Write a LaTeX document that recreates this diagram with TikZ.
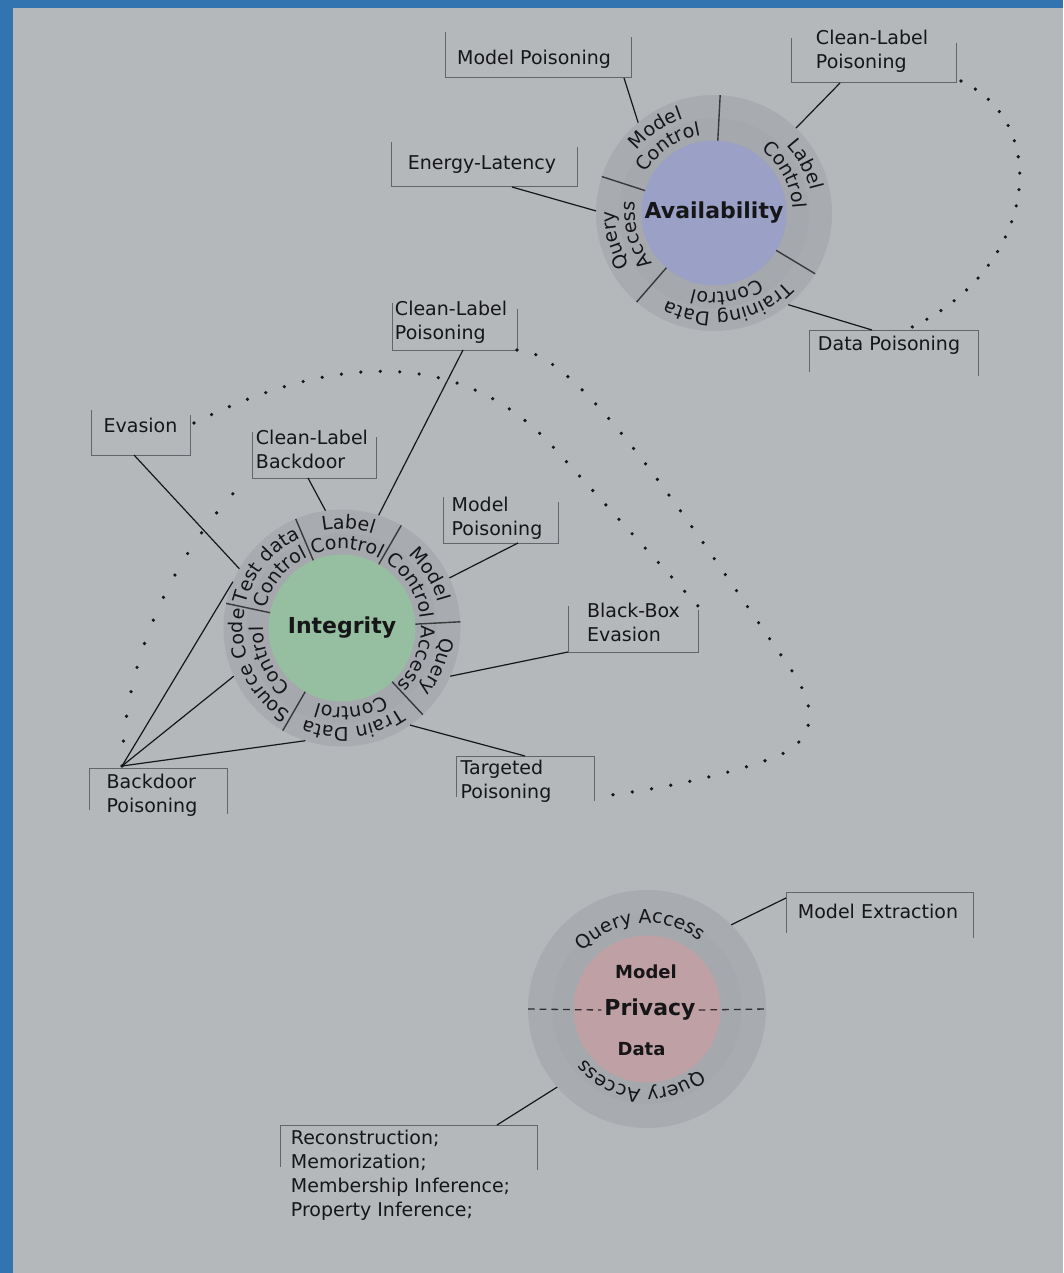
\documentclass[tikz,border=0pt]{standalone}
\usepackage{fontspec}
\setmainfont{DejaVu Sans}
\usepackage{xcolor}
\usepackage{tikz}
\usetikzlibrary{positioning,decorations.text}

\definecolor{bgblue}{RGB}{50,116,176}
\definecolor{panel}{RGB}{180,184,187}
\definecolor{ringgrey}{RGB}{168,171,175}
\definecolor{ringin}{RGB}{165,168,172}
\definecolor{avcol}{RGB}{155,160,198}
\definecolor{incol}{RGB}{150,190,160}
\definecolor{prcol}{RGB}{190,160,165}
\definecolor{ink}{RGB}{22,22,24}
\definecolor{boxgrey}{RGB}{98,101,105}

\begin{document}
\begin{tikzpicture}[
  x=1pt, y=1pt,
  font=\fontsize{19}{24}\selectfont,
  ring/.style={circle, fill=ringgrey, inner sep=0pt, outer sep=0pt, minimum size=#1},
  band/.style={circle, fill=ringin, inner sep=0pt, outer sep=0pt, minimum size=#1},
  core/.style={circle, inner sep=0pt, outer sep=0pt, minimum size=#1, text=ink, font=\fontsize{22}{26}\selectfont\bfseries},
  boxnd/.style={inner sep=0pt, outer sep=0pt},
  txt/.style={inner sep=0pt, align=left, text=ink},
  boxln/.style={boxgrey, line width=1pt},
  conn/.style={ink, line width=1.2pt},
  divider/.style={ink!85, line width=1.4pt},
  dotline/.style={ink, line width=3.6pt, line cap=round, dash pattern=on 0pt off #1},
  dotline/.default=19.5pt,
  ringtxt/.style={decorate, decoration={text along path, text align=center, text color=ink, text={|\fontsize{19}{23}\selectfont|#1}}},
]

\useasboundingbox (0,0) rectangle (1063,-1273);
\fill[bgblue] (0,0) rectangle (1063,-1273);
\fill[panel] (13,-8) rectangle (1063,-1273);

% Availability
\node[ring=236] (avring) at (714,-213) {};
\node[band=190] (avband) at (714,-213) {};
\node[core=145, fill=avcol] (avcore) at (714,-213) {Availability};
\foreach \a in {87,162,229,329}
  \draw[divider] (avcore.\a) -- (avring.\a);

\path[ringtxt=Model] (avring.center) ++(172:99) arc[start angle=172, end angle=77, radius=99];
\path[ringtxt=Control] (avring.center) ++(172:79) arc[start angle=172, end angle=77, radius=79];
\path[ringtxt=Label] (avring.center) ++(97:99) arc[start angle=97, end angle=-41, radius=99];
\path[ringtxt=Control] (avring.center) ++(97:79) arc[start angle=97, end angle=-41, radius=79];
\path[ringtxt=Training Data] (avring.center) ++(339:99) arc[start angle=339, end angle=219, radius=99];
\path[ringtxt=Control] (avring.center) ++(339:79) arc[start angle=339, end angle=219, radius=79];
\path[ringtxt=Query] (avring.center) ++(239:99) arc[start angle=239, end angle=152, radius=99];
\path[ringtxt=Access] (avring.center) ++(239:79) arc[start angle=239, end angle=152, radius=79];

\node[boxnd, minimum width=186, minimum height=46, label={[txt, name=apMPt, xshift=-4, yshift=-4]center:Model Poisoning}] (apMP) at (538,-55) {};
\node[boxnd, minimum width=186, minimum height=45, label={[txt, name=apELt, xshift=-2]center:Energy-Latency}] (apEL) at (484,-164.5) {};
\node[boxnd, minimum width=165, minimum height=45, label={[txt, name=apCLt, xshift=-1.5, yshift=9.5]center:Clean-Label\\Poisoning}] (apCL) at (873.5,-60.5) {};
\node[boxnd, minimum width=169, minimum height=42, label={[txt, name=apDPt, xshift=-4.5, yshift=6]center:Data Poisoning}] (apDP) at (893.5,-351) {};

\draw[boxln] (apMP.north west) -- (apMP.south west) -- (apMP.south east) -- ([yshift=-5]apMP.north east);
\draw[boxln] (apEL.north west) -- (apEL.south west) -- (apEL.south east) -- ([yshift=-5]apEL.north east);
\draw[boxln] (apCL.north west) -- (apCL.south west) -- (apCL.south east) -- ([yshift=-5]apCL.north east);
\draw[boxln] (apDP.south west) -- (apDP.north west) -- (apDP.north east) -- ([yshift=-4]apDP.south east);

\draw[conn] ([xshift=86]apMP.south) -- (avring.130);
\draw[conn] ([xshift=28]apEL.south) -- (avring.179);
\draw[conn] ([xshift=-33.5]apCL.south) -- (avring.46);
\draw[conn] ([xshift=-21.5]apDP.north) -- (avring.-51);

\draw[dotline=16.5pt] ([shift={(5,2)}]apCL.south east) .. controls (1055,-125) and (1035,-270) .. ([shift={(16.5,2)}]apDP.north);

% Integrity
\node[ring=237] (inring) at (342,-628) {};
\node[band=190] (inband) at (342,-628) {};
\node[core=147, fill=incol] (incore) at (342,-628) {Integrity};
\foreach \a in {3,60,113,168,240,313}
  \draw[divider] (incore.\a) -- (inring.\a);

\path[ringtxt=Test data] (inring.center) ++(178:99) arc[start angle=178, end angle=103, radius=99];
\path[ringtxt=Control] (inring.center) ++(178:79) arc[start angle=178, end angle=103, radius=79];
\path[ringtxt=Label] (inring.center) ++(123:99) arc[start angle=123, end angle=50, radius=99];
\path[ringtxt=Control] (inring.center) ++(123:79) arc[start angle=123, end angle=50, radius=79];
\path[ringtxt=Model] (inring.center) ++(70:99) arc[start angle=70, end angle=-7, radius=99];
\path[ringtxt=Control] (inring.center) ++(70:79) arc[start angle=70, end angle=-7, radius=79];
\path[ringtxt=Query] (inring.center) ++(13:99) arc[start angle=13, end angle=-57, radius=99];
\path[ringtxt=Access] (inring.center) ++(13:79) arc[start angle=13, end angle=-57, radius=79];
\path[ringtxt=Train Data] (inring.center) ++(-37:99) arc[start angle=-37, end angle=-130, radius=99];
\path[ringtxt=Control] (inring.center) ++(-37:79) arc[start angle=-37, end angle=-130, radius=79];
\path[ringtxt=Source Code] (inring.center) ++(250:99) arc[start angle=250, end angle=158, radius=99];
\path[ringtxt=Control] (inring.center) ++(250:79) arc[start angle=250, end angle=158, radius=79];

\node[boxnd, minimum width=125, minimum height=47, label={[txt, name=inCLPt, xshift=-3.5, yshift=4.5]center:Clean-Label\\Poisoning}] (inCLP) at (454.5,-326.5) {};
\node[boxnd, minimum width=99, minimum height=45, label={[txt, name=inEVt, yshift=7.5]center:Evasion}] (inEV) at (140.5,-432.5) {};
\node[boxnd, minimum width=124, minimum height=46, label={[txt, name=inCLBt, xshift=-2, yshift=6]center:Clean-Label\\Backdoor}] (inCLB) at (314,-455) {};
\node[boxnd, minimum width=115, minimum height=46, label={[txt, name=inMPt, xshift=-3.5, yshift=1.5]center:Model\\Poisoning}] (inMP) at (500.5,-520) {};
\node[boxnd, minimum width=130, minimum height=46, label={[txt, name=inBBt, xshift=0.5, yshift=6.5]center:Black-Box\\Evasion}] (inBB) at (633,-629) {};
\node[boxnd, minimum width=138, minimum height=41, label={[txt, name=inTPt, xshift=-19, yshift=-4.5]center:Targeted\\Poisoning}] (inTP) at (525,-776.5) {};
\node[boxnd, minimum width=138, minimum height=42, label={[txt, name=inBPt, xshift=-6, yshift=-6]center:Backdoor\\Poisoning}] (inBP) at (158,-789) {};

\draw[boxln] (inCLP.north west) -- (inCLP.south west) -- (inCLP.south east) -- ([yshift=-6]inCLP.north east);
\draw[boxln] (inEV.north west) -- (inEV.south west) -- (inEV.south east) -- ([yshift=-5]inEV.north east);
\draw[boxln] (inCLB.north west) -- (inCLB.south west) -- (inCLB.south east) -- ([yshift=-5]inCLB.north east);
\draw[boxln] (inMP.north west) -- (inMP.south west) -- (inMP.south east) -- ([yshift=-5]inMP.north east);
\draw[boxln] (inBB.north west) -- (inBB.south west) -- (inBB.south east) -- ([yshift=-4]inBB.north east);
\draw[boxln] (inTP.south west) -- (inTP.north west) -- (inTP.north east) -- ([yshift=-4]inTP.south east);
\draw[boxln] (inBP.south west) -- (inBP.north west) -- (inBP.north east) -- ([yshift=-4]inBP.south east);

\coordinate (bpHub) at ([shift={(-36,2)}]inBP.north);

\draw[conn] ([xshift=8.5]inCLP.south) -- (inring.72);
\draw[conn] ([xshift=-6.5]inEV.south) -- (inring.150);
\draw[conn] ([xshift=-6]inCLB.south) -- (inring.98);
\draw[conn] ([xshift=17.5]inMP.south) -- (inring.25);
\draw[conn] (inBB.south west) -- (inring.-24);
\draw[conn] (inTP.north) -- (inring.-55);
\draw[conn] (bpHub) -- (inring.157);
\draw[conn] (bpHub) -- (inring.204);
\draw[conn] (bpHub) -- (inring.252);

\draw[dotline] ([shift={(4,-13)}]inEV.north east) .. controls (328,-356) and (460,-344) .. (554,-448) -- (inBB.north east);
\draw[dotline] (inCLP.south east) .. controls (580,-350) and (700,-540) .. (790,-668)
  .. controls (813,-701) and (822,-735) .. (780,-755)
  .. controls (740,-772) and (660,-790) .. (inTP.south east);
\draw[dotline=25pt] (bpHub) .. controls (125,-660) and (170,-560) .. ([shift={(-12,-8)}]inCLB.south west);

% Privacy
\node[ring=238] (prring) at (647,-1009) {};
\node[band=190] (prband) at (647,-1009) {};
\node[core=147, fill=prcol] (prcore) at (647,-1009) {};
\node[text=ink, inner sep=3pt, font=\fontsize{22}{26}\selectfont\bfseries] (prmid) at (650,-1010) {Privacy};
\node[text=ink, inner sep=0pt, font=\fontsize{18}{22}\selectfont\bfseries] (prmod) at (646,-971.5) {Model};
\node[text=ink, inner sep=0pt, font=\fontsize{18}{22}\selectfont\bfseries] (prdat) at (641.5,-1049) {Data};
\draw[ink!90, line width=1.3pt, dash pattern=on 6.7pt off 5pt] (prring.west) -- (prmid.west);
\draw[ink!90, line width=1.3pt, dash pattern=on 6.7pt off 5pt] (prmid.east) -- (prring.east);

\path[ringtxt=Query Access] (prring.center) ++(150:86) arc[start angle=150, end angle=40, radius=86];
\path[ringtxt=Query Access] (prring.center) ++(-40:80) arc[start angle=-40, end angle=-150, radius=80];

\node[boxnd, minimum width=187, minimum height=41, label={[txt, name=prMEt, xshift=-1.5, yshift=1]center:Model Extraction}] (prME) at (879.5,-912.5) {};
\node[boxnd, minimum width=257, minimum height=42, label={[txt, name=prRCt, xshift=-8, yshift=-29.5]center:Reconstruction;\\Memorization;\\Membership Inference;\\Property Inference;}] (prRC) at (408.5,-1146) {};

\draw[boxln] (prME.south west) -- (prME.north west) -- (prME.north east) -- ([yshift=-5]prME.south east);
\draw[boxln] (prRC.south west) -- (prRC.north west) -- (prRC.north east) -- ([yshift=-3]prRC.south east);

\draw[conn] ([yshift=-6]prME.north west) -- (prring.45);
\draw[conn] ([xshift=88.5]prRC.north) -- (prring.221);

\end{tikzpicture}
\end{document}
